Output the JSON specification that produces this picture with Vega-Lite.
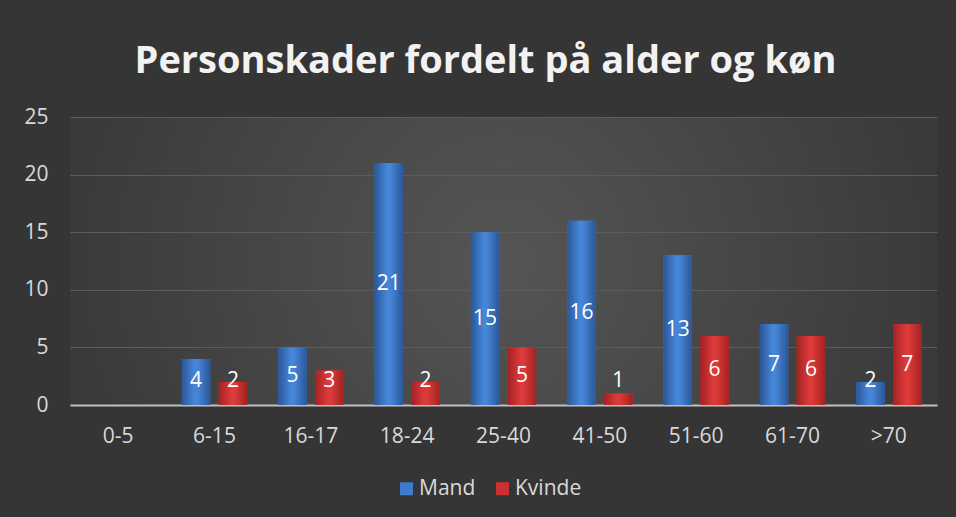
{
  "$schema": "https://vega.github.io/schema/vega-lite/v6.json",
  "width": 867,
  "height": 288,
  "autosize": "none",
  "padding": {"left": 70, "top": 117, "right": 19, "bottom": 112},
  "background": "#353535",
  "config": {
    "view": {"stroke": null, "fill": {"gradient": "radial", "stops": [{"offset": 0, "color": "#555555"}, {"offset": 1, "color": "#3a3a3a"}]}},
    "font": "Open Sans"
  },
  "title": {
    "text": "Personskader fordelt på alder og køn",
    "font": "Open Sans",
    "fontSize": 38,
    "fontWeight": "bold",
    "color": "#f2f2f2",
    "anchor": "middle",
    "dx": -18,
    "offset": 25
  },
  "data": {
    "values": [
      {"alder": "6-15", "kon": "Mand", "antal": 4},
      {"alder": "6-15", "kon": "Kvinde", "antal": 2},
      {"alder": "16-17", "kon": "Mand", "antal": 5},
      {"alder": "16-17", "kon": "Kvinde", "antal": 3},
      {"alder": "18-24", "kon": "Mand", "antal": 21},
      {"alder": "18-24", "kon": "Kvinde", "antal": 2},
      {"alder": "25-40", "kon": "Mand", "antal": 15},
      {"alder": "25-40", "kon": "Kvinde", "antal": 5},
      {"alder": "41-50", "kon": "Mand", "antal": 16},
      {"alder": "41-50", "kon": "Kvinde", "antal": 1},
      {"alder": "51-60", "kon": "Mand", "antal": 13},
      {"alder": "51-60", "kon": "Kvinde", "antal": 6},
      {"alder": "61-70", "kon": "Mand", "antal": 7},
      {"alder": "61-70", "kon": "Kvinde", "antal": 6},
      {"alder": ">70", "kon": "Mand", "antal": 2},
      {"alder": ">70", "kon": "Kvinde", "antal": 7}
    ]
  },
  "encoding": {
    "x": {
      "field": "alder",
      "type": "nominal",
      "sort": ["0-5", "6-15", "16-17", "18-24", "25-40", "41-50", "51-60", "61-70", ">70"],
      "scale": {"domain": ["0-5", "6-15", "16-17", "18-24", "25-40", "41-50", "51-60", "61-70", ">70"], "paddingInner": 0.3, "paddingOuter": 0.15},
      "axis": {
        "title": null,
        "labelAngle": 0,
        "labelFont": "Open Sans",
        "labelFontSize": 21,
        "labelColor": "#d9d9d9",
        "labelPadding": 20,
        "ticks": false,
        "domain": true,
        "domainColor": "#bfbfbf",
        "domainWidth": 2,
        "grid": false
      }
    },
    "xOffset": {
      "field": "kon",
      "type": "nominal",
      "scale": {"domain": ["Mand", "Kvinde"], "paddingInner": 0.23, "paddingOuter": 0.03}
    }
  },
  "layer": [
    {
      "mark": {"type": "bar"},
      "encoding": {
        "y": {
          "field": "antal",
          "type": "quantitative",
          "scale": {"domain": [0, 25]},
          "axis": {
            "title": null,
            "values": [0, 5, 10, 15, 20, 25],
            "labelFont": "Open Sans",
            "labelFontSize": 21,
            "labelColor": "#d9d9d9",
            "labelPadding": 22,
            "ticks": false,
            "domain": false,
            "grid": true,
            "gridColor": "#5c5c5c",
            "gridWidth": 1
          }
        },
        "color": {
          "field": "kon",
          "type": "nominal",
          "scale": {"domain": ["Mand", "Kvinde"], "range": ["#3d7bd0", "#cc3030"]},
          "legend": {
            "title": null,
            "orient": "none",
            "direction": "horizontal",
            "legendX": 326,
            "legendY": 361,
            "symbolType": "square",
            "symbolSize": 169,
            "symbolStrokeWidth": 0,
            "labelFont": "Open Sans",
            "labelFontSize": 21,
            "labelColor": "#d9d9d9",
            "labelOffset": 2,
            "columnPadding": 16,
            "padding": 0
          }
        }
      }
    },
    {
      "transform": [{"filter": {"field": "kon", "equal": "Mand"}}],
      "mark": {
        "type": "bar",
        "fill": {"gradient": "linear", "x1": 0, "x2": 1, "y1": 0, "y2": 0, "stops": [{"offset": 0, "color": "#2a5799"}, {"offset": 0.45, "color": "#4686d8"}, {"offset": 0.55, "color": "#4686d8"}, {"offset": 1, "color": "#2a5799"}]}
      },
      "encoding": {
        "y": {"field": "antal", "type": "quantitative", "scale": {"domain": [0, 25]}, "axis": null}
      }
    },
    {
      "transform": [{"filter": {"field": "kon", "equal": "Kvinde"}}],
      "mark": {
        "type": "bar",
        "fill": {"gradient": "linear", "x1": 0, "x2": 1, "y1": 0, "y2": 0, "stops": [{"offset": 0, "color": "#a32222"}, {"offset": 0.45, "color": "#dd3a3a"}, {"offset": 0.55, "color": "#dd3a3a"}, {"offset": 1, "color": "#a32222"}]}
      },
      "encoding": {
        "y": {"field": "antal", "type": "quantitative", "scale": {"domain": [0, 25]}, "axis": null}
      }
    },
    {
      "mark": {"type": "text", "color": "#ffffff", "font": "Open Sans", "fontSize": 21, "baseline": "middle", "dy": -24},
      "encoding": {
        "y": {"field": "antal", "type": "quantitative", "scale": {"domain": [4.17, 54.17], "clamp": true}, "axis": null},
        "text": {"field": "antal", "type": "quantitative"}
      }
    }
  ],
  "resolve": {"scale": {"y": "independent"}}
}
